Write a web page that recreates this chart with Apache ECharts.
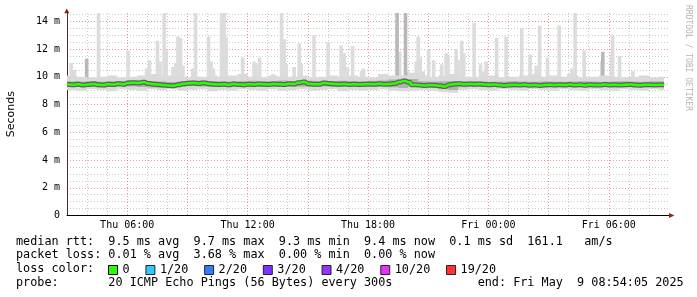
<!DOCTYPE html>
<html><head><meta charset="utf-8">
<script src="https://cdn.jsdelivr.net/npm/echarts@6/dist/echarts.min.js"></script>
<style>html,body{margin:0;padding:0;background:#fff}#c{width:697px;height:297px}</style>
</head><body><div id="c"></div>
<script>
// ---------- data (hours since Thu 00:00) ----------
const START_HOUR = 3;
const MEDIAN_STEP = 0.25;
const BAND_STEP = 0.5;
const DATA_END = 32.75;

const medianRtt = [
  9.44, 9.42, 9.46, 9.40, 9.45, 9.48, 9.43, 9.41, 9.46, 9.44, 9.50, 9.47,
  9.56, 9.58, 9.55, 9.60, 9.52, 9.47, 9.45, 9.40, 9.38, 9.36, 9.42, 9.50,
  9.53, 9.55, 9.52, 9.56, 9.50, 9.46, 9.44, 9.47, 9.42, 9.48, 9.45, 9.43,
  9.47, 9.44, 9.48, 9.46, 9.45, 9.49, 9.47, 9.44, 9.50, 9.48, 9.58, 9.62,
  9.50, 9.46, 9.47, 9.55, 9.52, 9.48, 9.46, 9.49, 9.45, 9.47, 9.44, 9.46,
  9.48, 9.46, 9.50, 9.47, 9.48, 9.52, 9.62, 9.70, 9.60, 9.42, 9.40, 9.38,
  9.40, 9.39, 9.36, 9.30, 9.42, 9.48, 9.50, 9.47, 9.49, 9.46, 9.48, 9.45,
  9.42, 9.44, 9.40, 9.38, 9.41, 9.43, 9.40, 9.42, 9.39, 9.41, 9.38, 9.40,
  9.42, 9.40, 9.43, 9.41, 9.44, 9.40, 9.42, 9.39, 9.43, 9.41, 9.40, 9.44,
  9.41, 9.43, 9.40, 9.42, 9.44, 9.41, 9.39, 9.42, 9.43, 9.40, 9.42, 9.41
];

const lightHi = [
  10.1, 10.0, 9.95, 10.0, 10.1, 9.95, 10.0, 10.1, 10.2, 10.0,
  10.1, 10.0, 9.95, 10.0, 10.1, 10.0, 10.1, 10.2, 10.0, 9.95,
  10.1, 10.0, 10.0, 10.1, 9.95, 10.0, 10.1, 10.0, 10.1, 10.0,
  9.95, 10.2, 10.1, 10.1, 10.3, 10.1, 10.0, 10.1, 10.2, 10.0,
  10.0, 10.0, 10.1, 9.95, 10.0, 10.1, 10.2, 10.0, 10.1, 10.0,
  10.1, 9.95, 10.0, 10.1, 10.0, 9.95, 10.0, 10.1, 9.95, 10.0
];
const lightLo = [
  9.05, 9.00, 9.10, 9.05, 8.95, 9.10, 9.05, 9.00, 9.10, 9.05,
  9.10, 9.00, 9.05, 9.10, 8.95, 9.05, 9.00, 9.10, 9.05, 9.00,
  9.10, 9.00, 9.05, 9.10, 9.00, 9.05, 9.10, 8.95, 9.05, 9.00,
  9.05, 9.10, 9.00, 8.95, 9.00, 9.05, 9.00, 8.90, 8.85, 9.05,
  9.10, 9.05, 9.00, 9.10, 9.05, 9.00, 9.10, 9.05, 9.00, 9.10,
  9.05, 9.00, 9.10, 9.05, 9.00, 9.10, 9.05, 9.00, 9.10, 9.05
];
const smokeHi = [
  9.68, 9.66, 9.70, 9.66, 9.68, 9.70, 9.76, 9.74, 9.70, 9.66,
  9.62, 9.68, 9.72, 9.74, 9.70, 9.68, 9.66, 9.69, 9.71, 9.68,
  9.70, 9.74, 9.68, 9.70, 9.72, 9.68, 9.70, 9.71, 9.69, 9.68,
  9.71, 9.74, 9.80, 9.78, 9.84, 9.68, 9.66, 9.68, 9.70, 9.66,
  9.68, 9.66, 9.64, 9.66, 9.68, 9.66, 9.64, 9.68, 9.66, 9.64,
  9.66, 9.68, 9.66, 9.64, 9.66, 9.68, 9.66, 9.64, 9.68, 9.66
];
const smokeLo = [
  9.28, 9.26, 9.30, 9.24, 9.28, 9.32, 9.30, 9.26, 9.22, 9.20,
  9.28, 9.30, 9.32, 9.30, 9.28, 9.29, 9.30, 9.28, 9.32, 9.29,
  9.28, 9.29, 9.30, 9.28, 9.29, 9.30, 9.29, 9.28, 9.30, 9.29,
  9.27, 9.30, 9.24, 9.20, 9.28, 9.24, 9.20, 9.10, 9.05, 9.24,
  9.28, 9.26, 9.27, 9.26, 9.24, 9.26, 9.27, 9.24, 9.26, 9.27,
  9.24, 9.26, 9.27, 9.26, 9.24, 9.26, 9.27, 9.24, 9.26, 9.27
];

const spikeHour = [
  3.21, 3.37, 4.57, 6.04, 6.96, 7.11, 7.51, 7.64, 7.84, 7.94,
  8.28, 8.43, 8.53, 8.66, 8.78, 9.26, 9.41, 9.58, 10.05, 10.18,
  10.30, 10.70, 10.83, 10.93, 11.75, 11.82, 12.32, 12.42, 12.60, 13.27,
  13.69, 13.82, 13.92, 14.32, 14.57, 14.67, 15.31, 16.01, 16.66, 16.81,
  16.96, 17.23, 17.68, 17.78, 19.58, 19.97, 20.15, 20.40, 20.50, 20.60,
  20.75, 21.02, 21.27, 21.67, 21.89, 21.99, 22.39, 22.49, 22.67, 22.77,
  23.29, 23.61, 23.74, 23.89, 24.41, 24.88, 25.66, 26.08, 26.38, 26.55,
  26.95, 27.53, 28.00, 28.15, 28.32, 28.77, 29.65, 30.14, 30.19, 30.54,
  31.20
];
const spikeMax = [
  11.0, 10.5, 14.6, 11.9, 10.6, 11.2, 12.6, 11.1, 14.6, 11.9,
  10.7, 11.0, 12.9, 12.8, 10.8, 10.6, 14.6, 10.0, 12.9, 11.1,
  10.6, 14.6, 14.6, 12.8, 11.4, 10.2, 11.1, 10.9, 11.4, 10.2,
  14.6, 12.7, 10.9, 10.7, 12.4, 10.9, 13.0, 12.5, 12.25, 11.7,
  10.7, 12.2, 10.4, 10.6, 11.8, 10.4, 10.2, 11.1, 12.9, 11.4,
  10.4, 12.0, 11.2, 10.9, 11.7, 11.5, 12.0, 11.2, 12.6, 11.7,
  13.9, 10.9, 10.4, 11.1, 12.8, 12.9, 13.5, 11.6, 10.8, 13.7,
  11.4, 13.7, 10.2, 10.6, 14.6, 11.9, 11.1, 11.7, 13.0, 11.5,
  10.4
];
const darkSpikeHour = [3.98, 19.45, 19.87, 29.70];
const darkSpikeMax  = [11.3, 14.6, 14.6, 11.8];

const loss1Hour = [18.92];
const loss1Rtt  = [9.48];

const xTickHours  = [6, 12, 18, 24, 30];
const xTickLabels = ['Thu 06:00', 'Thu 12:00', 'Thu 18:00', 'Fri 00:00', 'Fri 06:00'];
const yTickValues = [0, 2, 4, 6, 8, 10, 12, 14];
const yTickLabels = ['0', '2 m', '4 m', '6 m', '8 m', '10 m', '12 m', '14 m'];

const lossNames  = ['0', '1/20', '2/20', '3/20', '4/20', '10/20', '19/20'];
const lossColors = ['#26ff00', '#00b8ff', '#0059ff', '#5e00ff', '#7e00ff', '#dd00ff', '#ff0000'];

const statLines = [
  'median rtt:  9.5 ms avg  9.7 ms max  9.3 ms min  9.4 ms now  0.1 ms sd  161.1   am/s',
  'packet loss: 0.01 % avg  3.68 % max  0.00 % min  0.00 % now',
  'loss color:',
  'probe:       20 ICMP Echo Pings (56 Bytes) every 300s            end: Fri May  9 08:54:05 2025'
];

// ---------- build ----------
const SPIKE_HALF = 0.09;
const SPIKE_BASE = 9.7;
const mono = '"DejaVu Sans Mono", monospace';

const medianData = medianRtt.map((v, i) => [START_HOUR + i * MEDIAN_STEP, v]);
const bandData = (lo, hi) => lo.map((v, j) => {
  const t0 = START_HOUR + j * BAND_STEP;
  return [t0, v, hi[j], Math.min(t0 + BAND_STEP, DATA_END)];
});
const spikeData = (hs, ms) => hs.map((h, i) => [h - SPIKE_HALF, SPIKE_BASE, ms[i], h + SPIKE_HALF]);

function rectItem(params, api) {
  const a = api.coord([api.value(0), api.value(2)]);
  const b = api.coord([api.value(3), api.value(1)]);
  return { type: 'rect', shape: { x: a[0], y: a[1], width: b[0] - a[0], height: b[1] - a[1] },
           style: { fill: api.visual('color') } };
}
function rectSeries(name, data, color) {
  return { type: 'custom', name, data, renderItem: rectItem, clip: true, silent: true,
           itemStyle: { color }, encode: { x: [0, 3], y: [1, 2] }, animation: false };
}

const GRID_L = 67, GRID_R = 28, GRID_T = 13, GRID_B = 81.5;
const gridGray = 'rgba(150,150,150,0.5)';
const gridRed = 'rgba(222,80,80,0.6)';

const series = [
  rectSeries('spikes', spikeData(spikeHour, spikeMax), '#dcdcdc'),
  rectSeries('darkSpikes', spikeData(darkSpikeHour, darkSpikeMax), '#b8b8b8'),
  rectSeries('light', bandData(lightLo, lightHi), '#dadada'),
  rectSeries('smoke', bandData(smokeLo, smokeHi), '#b0b0b0'),
  { type: 'line', name: 'medianShade', data: medianData, step: 'middle', showSymbol: false, silent: true,
    lineStyle: { color: '#606060', width: 5 }, animation: false },
  { type: 'line', name: lossNames[0], data: medianData, step: 'middle', showSymbol: false, silent: true,
    color: lossColors[0], itemStyle: { color: lossColors[0] },
    lineStyle: { color: lossColors[0], width: 2.5 }, animation: false },
  { type: 'scatter', name: lossNames[1], data: loss1Hour.map((h, i) => [h, loss1Rtt[i]]),
    symbol: 'rect', symbolSize: [4, 4], color: lossColors[1], itemStyle: { color: lossColors[1] }, animation: false }
];
for (let k = 2; k < lossNames.length; k++) {
  series.push({ type: 'scatter', name: lossNames[k], data: [], color: lossColors[k],
                itemStyle: { color: lossColors[k] } });
}

const chart = echarts.init(document.getElementById('c'), null, { renderer: 'canvas' });
chart.setOption({
  backgroundColor: '#ffffff',
  animation: false,
  grid: { left: GRID_L, right: GRID_R, top: GRID_T, bottom: GRID_B, containLabel: false, outerBoundsMode: 'none' },
  xAxis: {
    type: 'value', min: 3, max: 33, interval: 1,
    axisLine: { show: true, lineStyle: { color: '#000', width: 1 } },
    axisTick: { show: false },
    axisLabel: {
      margin: 5, fontFamily: mono, fontSize: 10, color: '#000',
      formatter: v => { const i = xTickHours.indexOf(v); return i >= 0 ? xTickLabels[i] : ''; }
    },
    splitLine: { show: true, showMinLine: true, showMaxLine: false,
                 lineStyle: { color: [gridRed, gridGray, gridGray], type: [1, 2], width: 1 } }
  },
  yAxis: {
    type: 'value', min: 0, max: 14.6, interval: 2,
    name: 'Seconds', nameLocation: 'middle', nameGap: 50, nameRotate: 90,
    nameTextStyle: { fontFamily: '"DejaVu Sans"', fontSize: 11, color: '#000' },
    axisLine: { show: true, lineStyle: { color: '#4a2a2a', width: 1 } },
    axisTick: { show: false },
    axisLabel: {
      margin: 7, fontFamily: mono, fontSize: 10, color: '#000',
      formatter: v => { const i = yTickValues.indexOf(v); return i >= 0 ? yTickLabels[i] : ''; }
    },
    splitLine: { show: true, showMaxLine: false, lineStyle: { color: gridRed, type: [1, 2], width: 1 } },
    minorTick: { show: false, splitNumber: 4 },
    minorSplitLine: { show: true, lineStyle: { color: gridGray, type: [1, 2], width: 1 } }
  },
  legend: {
    data: lossNames, left: 108, top: 264, padding: 0, icon: 'rect',
    itemWidth: 9, itemHeight: 9, itemGap: 15.8, selectedMode: false,
    itemStyle: { borderColor: '#000', borderWidth: 1 },
    textStyle: { fontFamily: mono, fontSize: 11.8, color: '#000' }
  },
  graphic: [
    { type: 'polygon', shape: { points: [[64.3, 13.3], [69.3, 13.3], [66.8, 8.5]] }, style: { fill: '#8b1a1a' }, z: 100 },
    { type: 'polygon', shape: { points: [[669, 213], [669, 218], [674.5, 215.5]] }, style: { fill: '#9b2020' }, z: 100 },
    { type: 'text', x: 688, y: 5, rotation: -Math.PI / 2,
      style: { text: 'RRDTOOL / TOBI OETIKER', font: '8px ' + mono, fill: '#b4b4b4', verticalAlign: 'middle' } },
    { type: 'text', style: { x: 16, y: 241.7, text: statLines[0], font: '11.8px ' + mono, fill: '#000', verticalAlign: 'middle' } },
    { type: 'text', style: { x: 16, y: 255.3, text: statLines[1], font: '11.8px ' + mono, fill: '#000', verticalAlign: 'middle' } },
    { type: 'text', style: { x: 16, y: 269, text: statLines[2], font: '11.8px ' + mono, fill: '#000', verticalAlign: 'middle' } },
    { type: 'text', style: { x: 16, y: 282.7, text: statLines[3], font: '11.8px ' + mono, fill: '#000', verticalAlign: 'middle' } }
  ],
  series
});
</script></body></html>
